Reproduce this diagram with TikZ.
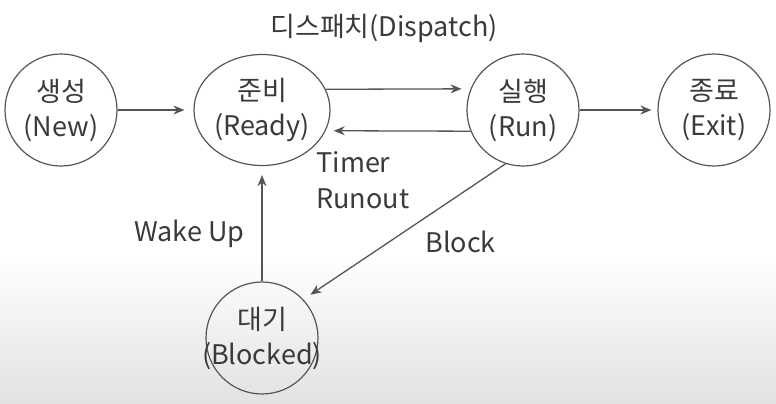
\documentclass[tikz,border=0pt]{standalone}
\usepackage{fontspec}
\setmainfont{Noto Sans CJK KR}
\usetikzlibrary{arrows.meta, positioning, shapes.geometric}
\definecolor{cink}{HTML}{3A3A3A}
\definecolor{cline}{HTML}{555555}
\definecolor{cfloor}{HTML}{E2E2E2}
\tikzset{
  every picture/.style={font=\fontsize{13.5}{17.5}\selectfont, text=cink},
  proc/.style={circle, draw=cline, line width=0.6pt, minimum size=56pt, inner sep=0pt, align=center},
  arrow/.style={-{Stealth[length=5.5pt, width=4.5pt]}, draw=cline, line width=0.65pt},
  note/.style={align=left, inner sep=0pt},
}
\begin{document}
\begin{tikzpicture}[x=0.5pt, y=-0.5pt]
  \useasboundingbox (0,0) rectangle (776,403);
  \shade[top color=white, bottom color=cfloor] (0,255) rectangle (776,403);
  % process states
  \node[proc] (new) at (61,110) {생성\\(New)};
  \node[proc, ellipse, minimum width=68pt, minimum height=55.5pt] (ready) at (262,110) {준비\\(Ready)};
  \node[proc] (run) at (523,110) {실행\\(Run)};
  \node[proc] (exit) at (714,110) {종료\\(Exit)};
  \node[proc, inner sep=-12pt] (blocked) at (262,338) {대기\\(Blocked)};
  % transitions
  \draw[arrow, shorten >=4.5pt] (new) -- (ready);
  \draw[arrow, shorten >=4.5pt] (ready.18) -- (run.158);
  \draw[arrow, shorten >=4pt] (run.202) -- (ready.342);
  \draw[arrow, shorten >=3pt] (run) -- (exit);
  \draw[arrow, shorten >=4.25pt] (run.252) -- (blocked.43);
  \draw[arrow, shorten >=4.5pt] (blocked) -- (ready);
  % labels
  \node (dispatch) at (384,28) {디스패치(Dispatch)};
  \node[note, anchor=north west] (timer) at (316,151) {Timer\\[0.5pt]Runout};
  \node[note, anchor=base west] (wake) at (134,241) {Wake Up};
  \node[note, anchor=base west] (block) at (425,252) {Block};
\end{tikzpicture}
\end{document}
